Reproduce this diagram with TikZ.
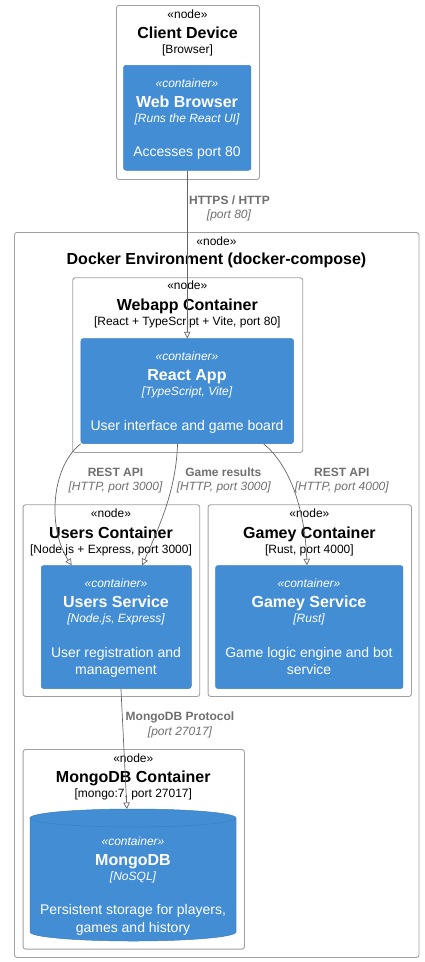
\documentclass[tikz,border=0pt]{standalone}
\usepackage{fontspec}
\setmainfont{Liberation Sans}
\usetikzlibrary{arrows.meta}
\definecolor{c4blue}{HTML}{438DD5}
\definecolor{c4border}{HTML}{3C7FC0}
\definecolor{grayline}{HTML}{A0A0A0}
\definecolor{lbl}{HTML}{707070}
\definecolor{conn}{HTML}{666666}
\begin{document}
\begin{tikzpicture}[x=1pt,y=-1pt,
  deploy/.style={draw=grayline, line width=0.9pt, rounded corners=2.5pt, anchor=north west, inner sep=0pt},
  cont/.style={fill=c4blue, draw=c4border, line width=0.5pt, rounded corners=2.5pt, anchor=north west, inner sep=0pt},
  t/.style={anchor=base, inner sep=0pt},
  stereo/.style={t, font=\fontsize{12}{14}\selectfont},
  dtitle/.style={t, font=\fontsize{16}{19}\selectfont\bfseries},
  dtech/.style={t, font=\fontsize{12}{14}\selectfont},
  cstereo/.style={t, text=white, font=\fontsize{12}{14}\selectfont\itshape},
  ctitle/.style={t, text=white, font=\fontsize{16}{19}\selectfont\bfseries},
  ctech/.style={t, text=white, font=\fontsize{12}{14}\selectfont\itshape},
  cdesc/.style={t, text=white, font=\fontsize{14}{18}\selectfont},
  rel/.style={draw=conn, line width=0.7pt, -{Triangle[open, length=6.5pt, width=6.5pt]}},
  rlabel/.style={t, text=lbl, font=\fontsize{12}{14}\selectfont\bfseries},
  rtech/.style={t, text=lbl, font=\fontsize{12}{14}\selectfont\itshape},
]
\useasboundingbox[fill=white] (0,0) rectangle (424,962);

% ---------- Client Device ----------
\node[deploy, minimum width=143pt, minimum height=174pt] (client) at (116,5) {};
\node[stereo] (clientst) at (187.5,18.3) {«node»};
\node[dtitle] (clientti) at (187.5,38.6) {Client Device};
\node[dtech] (clientte) at (187.5,53.6) {[Browser]};

\node[cont, minimum width=127.4pt, minimum height=105pt] (webbrowser) at (123.3,65) {};
\node[cstereo] (wbst) at (187,87) {«container»};
\node[ctitle] (wbti) at (187,107.3) {Web Browser};
\node[ctech] (wbte) at (187,122) {[Runs the React UI]};
\node[cdesc] (wbde) at (187,156.5) {Accesses port 80};

% ---------- Docker Environment ----------
\node[deploy, minimum width=404.5pt, minimum height=725pt] (docker) at (14,232) {};
\node[stereo] (dockst) at (216.5,245) {«node»};
\node[dtitle] (dockti) at (216.5,264) {Docker Environment (docker-compose)};

% Webapp
\node[deploy, minimum width=230pt, minimum height=174.7pt] (webapp) at (72.3,277.3) {};
\node[stereo] (webappst) at (187.3,289.5) {«node»};
\node[dtitle] (webappti) at (187.3,310) {Webapp Container};
\node[dtech] (webappte) at (187.3,325.2) {[React + TypeScript + Vite, port 80]};

\node[cont, minimum width=212.6pt, minimum height=105pt] (react) at (80.7,338.3) {};
\node[cstereo] (reactst) at (187,360) {«container»};
\node[ctitle] (reactti) at (187,380.3) {React App};
\node[ctech] (reactte) at (187,395) {[TypeScript, Vite]};
\node[cdesc] (reactde) at (187,430) {User interface and game board};

% Users
\node[deploy, minimum width=176.6pt, minimum height=191.7pt] (userscont) at (22.7,504.3) {};
\node[stereo] (usersst) at (111,517.5) {«node»};
\node[dtitle] (usersti) at (111,538.2) {Users Container};
\node[dtech] (userste) at (111,553.3) {[Node.js + Express, port 3000]};

\node[cont, minimum width=150pt, minimum height=123pt] (userssvc) at (41,565.3) {};
\node[cstereo] (usvcst) at (116,587.3) {«container»};
\node[ctitle] (usvcti) at (116,607.3) {Users Service};
\node[ctech] (usvcte) at (116,622.5) {[Node.js, Express]};
\node[cdesc] (usvcde1) at (116,657.3) {User registration and};
\node[cdesc] (usvcde2) at (116,674.8) {management};

% Gamey
\node[deploy, minimum width=203.3pt, minimum height=191.7pt] (gameycont) at (207.7,504.3) {};
\node[stereo] (gameyst) at (309.4,517.5) {«node»};
\node[dtitle] (gameyti) at (309.4,538.2) {Gamey Container};
\node[dtech] (gameyte) at (309.4,553.3) {[Rust, port 4000]};

\node[cont, minimum width=187.4pt, minimum height=123pt] (gameysvc) at (215.3,565.3) {};
\node[cstereo] (gsvcst) at (309,587.3) {«container»};
\node[ctitle] (gsvcti) at (309,607.3) {Gamey Service};
\node[ctech] (gsvcte) at (309,622.5) {[Rust]};
\node[cdesc] (gsvcde1) at (309,657.3) {Game logic engine and bot};
\node[cdesc] (gsvcde2) at (309,674.8) {service};

% MongoDB
\node[deploy, minimum width=221.3pt, minimum height=199.7pt] (mongocont) at (22.7,749) {};
\node[stereo] (mongost) at (133.3,762.5) {«node»};
\node[dtitle] (mongoti) at (133.3,782.6) {MongoDB Container};
\node[dtech] (mongote) at (133.3,797.6) {[mongo:7, port 27017]};

\fill[c4blue] (30,818) rectangle (236,932);
\fill[c4blue] (133,932) ellipse [x radius=103pt, y radius=9pt];
\fill[c4blue] (133,818) ellipse [x radius=103pt, y radius=9pt];
\draw[c4border, line width=0.5pt] (30,818) -- (30,932) arc[start angle=180, end angle=360, x radius=103pt, y radius=9pt] -- (236,818);
\draw[c4border, line width=0.5pt] (133,818) ellipse [x radius=103pt, y radius=9pt];
\node[inner sep=0pt, minimum width=206pt, minimum height=132pt, anchor=north west] (mongo) at (30,809) {};
\node[cstereo] (mdbst) at (133,845.5) {«container»};
\node[ctitle] (mdbti) at (133,865.6) {MongoDB};
\node[ctech] (mdbte) at (133,880.5) {[NoSQL]};
\node[cdesc] (mdbde1) at (133,914.6) {Persistent storage for players,};
\node[cdesc] (mdbde2) at (133,932) {games and history};

% ---------- Relations ----------
\draw[rel] (webbrowser.south) -- (react.north);
\node[rlabel] (l1a) at (229.5,204) {HTTPS / HTTP};
\node[rtech] (l1b) at (229,218.5) {[port 80]};

\draw[rel] (react.south west) .. controls (50,468) and (48,530) .. ([xshift=30.7pt]userssvc.north west);
\node[rlabel] (l2a) at (115.5,476) {REST API};
\node[rtech] (l2b) at (115.5,490.5) {[HTTP, port 3000]};

\draw[rel] ([xshift=-9.7pt]react.south) .. controls (176,490) and (160,525) .. ([xshift=-49.3pt]userssvc.north east);
\node[rlabel] (l3a) at (223.3,476) {Game results};
\node[rtech] (l3b) at (223.7,490.5) {[HTTP, port 3000]};

\draw[rel] ([xshift=-30.3pt]react.south east) .. controls (290,465) and (305,510) .. ([xshift=-2.3pt]gameysvc.north);
\node[rlabel] (l4a) at (341.8,476) {REST API};
\node[rtech] (l4b) at (341.8,490.5) {[HTTP, port 4000]};

\draw[rel] ([xshift=4.7pt]userssvc.south) -- ([xshift=-6.3pt]mongo.north);
\node[rlabel] (l5a) at (180,720.3) {MongoDB Protocol};
\node[rtech] (l5b) at (180,735) {[port 27017]};
\end{tikzpicture}
\end{document}
